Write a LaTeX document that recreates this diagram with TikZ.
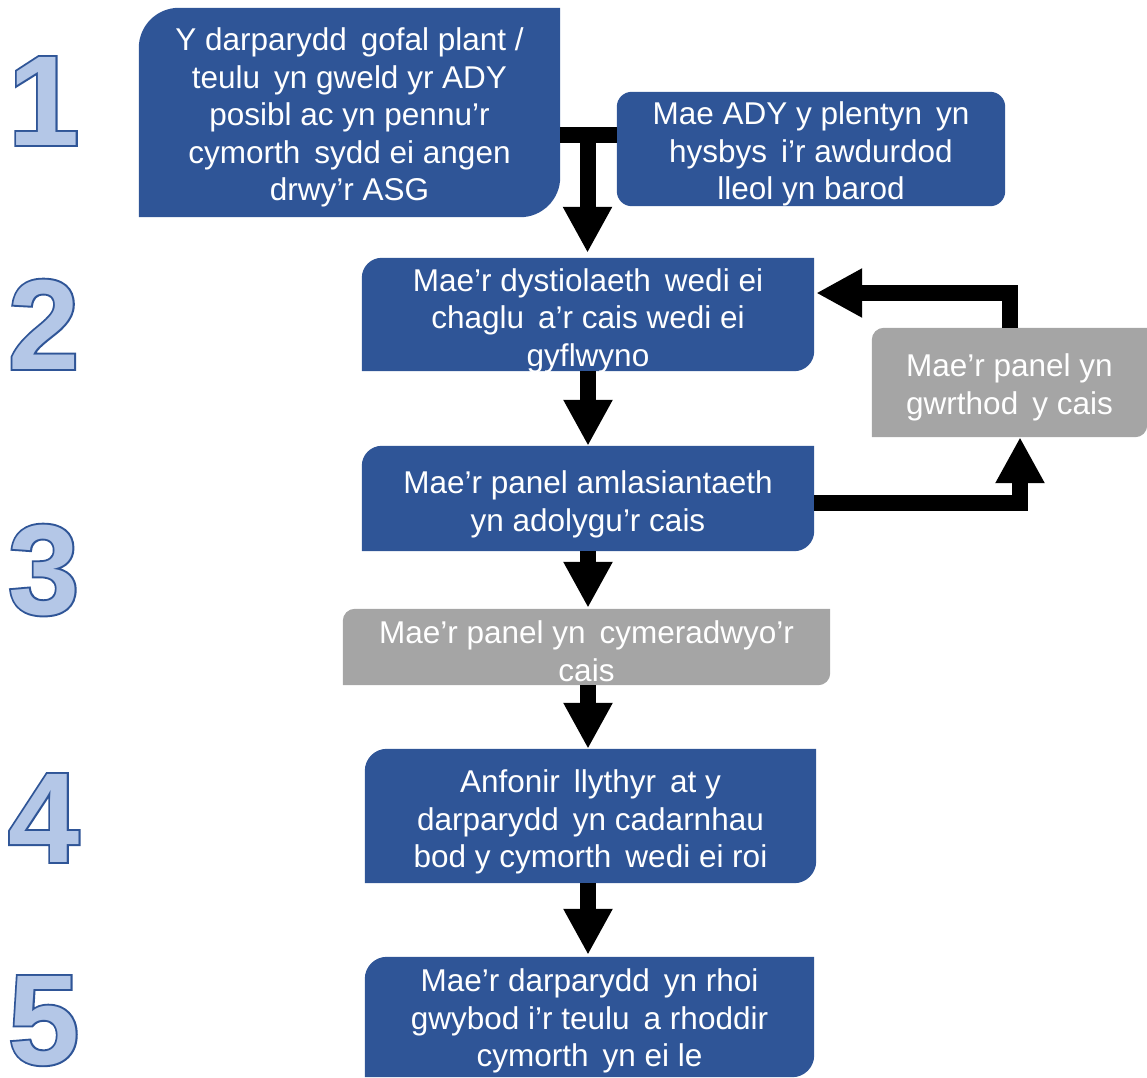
\documentclass[tikz,border=0pt]{standalone}
\usepackage{fontspec}
\setmainfont{Liberation Sans}
\newfontfamily\numfont{Liberation Sans Bold}
\newfontfamily\numfontbold[FakeBold=3]{Liberation Sans Bold}
\usetikzlibrary{arrows.meta,backgrounds}
\definecolor{boxblue}{HTML}{2F5597}
\definecolor{boxgrey}{HTML}{A5A5A5}
\definecolor{numfill}{HTML}{B4C7E7}
\definecolor{numline}{HTML}{2F5597}
\newcommand\cornerbox[3]{%
  \fill[#3] (#1.south west) -- ([yshift=-#2]#1.north west)
    arc[start angle=180,end angle=90,radius=#2] -- (#1.north east)
    -- ([yshift=#2]#1.south east)
    arc[start angle=0,end angle=-90,radius=#2] -- cycle;}
\tikzset{
  boxshape/.style={inner sep=0pt, minimum width=#1},
  flowtext/.style={inner sep=0pt, align=center, text=white,
    font=\fontsize{31.5}{37.5}\selectfont},
  numout/.style={inner sep=0pt, anchor=base west, text=numline,
    font=\fontsize{128}{128}\numfontbold},
  numin/.style={inner sep=0pt, anchor=base west, text=numfill,
    font=\fontsize{128}{128}\numfont},
  arr/.style={line width=16pt, line join=miter,
    -{Triangle[width=46pt,length=46pt]}},
  bar/.style={line width=16pt},
}
\begin{document}
\begin{tikzpicture}[x=1pt,y=1pt]
\useasboundingbox (0,0) rectangle (1147,-1077);

% step numbers
\foreach \d/\y in {1/145,2/369,3/614,4/862,5/1064}{
  \node[numout] (no\d) at (8,-\y) {\d};
  \node[numin] (ni\d) at (8,-\y) {\d};
}

% box shapes
\node[boxshape=421pt, minimum height=209pt] (b1) at (349.5,-112.5) {};
\node[boxshape=388pt, minimum height=114pt] (ady) at (811,-149) {};
\node[boxshape=452pt, minimum height=113pt] (b2) at (588,-314.5) {};
\node[boxshape=452pt, minimum height=105pt] (b3) at (588,-498.5) {};
\node[boxshape=275pt, minimum height=109pt] (g1) at (1009.5,-382.5) {};
\node[boxshape=487pt, minimum height=76pt] (g2) at (586.5,-647) {};
\node[boxshape=451pt, minimum height=134pt] (b4) at (590.5,-816) {};
\node[boxshape=449pt, minimum height=120pt] (b5) at (589.5,-1017) {};

\begin{pgfonlayer}{background}
  \cornerbox{b1}{40pt}{boxblue}
  \fill[boxblue, rounded corners=15pt] (ady.south west) rectangle (ady.north east);
  \cornerbox{b2}{20pt}{boxblue}
  \cornerbox{b3}{20pt}{boxblue}
  \cornerbox{g1}{12pt}{boxgrey}
  \cornerbox{g2}{12pt}{boxgrey}
  \cornerbox{b4}{22pt}{boxblue}
  \cornerbox{b5}{22pt}{boxblue}
\end{pgfonlayer}

% box texts
\node[flowtext] (t1) at ([yshift=-5pt]b1.center)
  {Y darparydd\, gofal plant /\\teulu\, yn gweld yr ADY\\posibl ac yn pennu’r\\cymorth\, sydd ei angen\\drwy’r ASG};
\node[flowtext] (tady) at ([yshift=-5pt]ady.center)
  {Mae ADY y plentyn\, yn\\hysbys\, i’r awdurdod\\lleol yn barod};
\node[flowtext] (t2) at ([yshift=-6pt]b2.center)
  {Mae’r dystiolaeth\, wedi ei\\chaglu\, a’r cais wedi ei\\gyflwyno};
\node[flowtext] (t3) at ([yshift=-6pt]b3.center)
  {Mae’r panel amlasiantaeth\\yn adolygu’r cais};
\node[flowtext] (tg1) at ([yshift=-5pt]g1.center)
  {Mae’r panel yn\\gwrthod\, y cais};
\node[flowtext] (tg2) at ([yshift=-4pt]g2.center)
  {Mae’r panel yn\, cymeradwyo’r\\cais};
\node[flowtext] (t4) at ([yshift=-6pt]b4.center)
  {Anfonir\, llythyr\, at y\\darparydd\, yn cadarnhau\\bod y cymorth\, wedi ei roi};
\node[flowtext] (t5) at ([yshift=-4pt]b5.center)
  {Mae’r darparydd\, yn rhoi\\gwybod i’r teulu\, a rhoddir\\cymorth\, yn ei le};

% connectors
\coordinate (j1) at (587.5,-135);
\draw[bar] (b1.east |- j1) -- (ady.west |- j1);
\draw[arr] ([yshift=8pt]j1) -- ([yshift=5pt]b2.north -| j1);
\draw[arr] (b2.south) -- (b3.north);
\draw[arr] (b3.south) -- ([yshift=1pt]g2.north -| b3.south);
\draw[arr] (g2.south -| b3.south) -- (b4.north -| b3.south);
\draw[arr] (b4.south -| b3.south) -- ([yshift=2pt]b5.north -| b3.south);
\coordinate (r1) at (1020,-503);
\draw[arr] (b3.east |- r1) -| (g1.south -| r1);
\coordinate (r2) at (1010,-293);
\draw[arr] (g1.north -| r2) |- ([xshift=2pt]b2.east |- r2);
\end{tikzpicture}
\end{document}
